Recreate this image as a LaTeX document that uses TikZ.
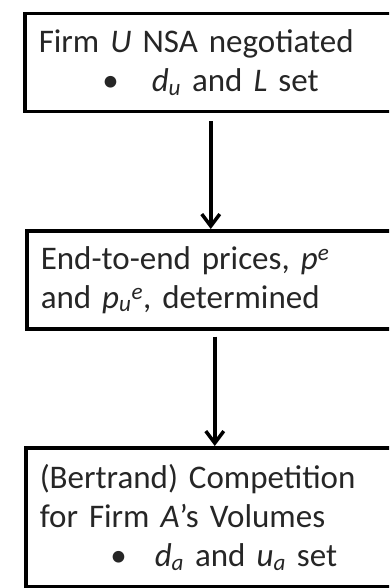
\documentclass[tikz,border=0pt]{standalone}
\usepackage{fontspec}
\setmainfont{Carlito}
\usetikzlibrary{arrows.meta}
\newcommand{\itsub}[2]{\textit{#1}\textsubscript{\textit{#2}}}
\newcommand{\boxfont}{\fontsize{33pt}{39pt}\selectfont}
% bullet set flush right in a box of width #1, then a gap of #2
\newcommand{\stagebullet}[2]{\makebox[#1][r]{\textbullet}\hspace{#2}}
\begin{document}
\begin{tikzpicture}[x=1pt,y=1pt,
  stagebox/.style={draw=black,line width=3.5pt,anchor=north west,inner xsep=14pt,
    align=left,font=\boxfont,text=black!85},
  flowarrow/.style={line width=3.5pt,-{Straight Barb[length=12pt,width=18pt,line width=3.5pt]}}]
\useasboundingbox (0,0) rectangle (389,-588);
\clip (0,0) rectangle (389,-588);
\node[stagebox,minimum width=372,minimum height=98,text width=344] (nsa) at (23,-12)
  {Firm \textit{U} NSA negotiated\\\stagebullet{80pt}{33pt}\itsub{d}{u} and \textit{L} set};
\node[stagebox,minimum width=376,minimum height=98,text width=348] (prices) at (25,-229)
  {End-to-end prices, \textit{p}\textsuperscript{\textit{e}}\\and \itsub{p}{u}\textsuperscript{\textit{e}}, determined};
\node[stagebox,minimum width=378,minimum height=139,text width=350] (bertrand) at (24,-446)
  {(Bertrand) Competition\\for Firm \textit{A}’s Volumes\\\stagebullet{87pt}{28pt}\itsub{d}{a} and \itsub{u}{a} set};
\draw[flowarrow,shorten <=8pt] (nsa.south) -- (nsa.south |- prices.north);
\draw[flowarrow,shorten <=6pt] (prices.south) -- (prices.south |- bertrand.north);
\end{tikzpicture}
\end{document}
